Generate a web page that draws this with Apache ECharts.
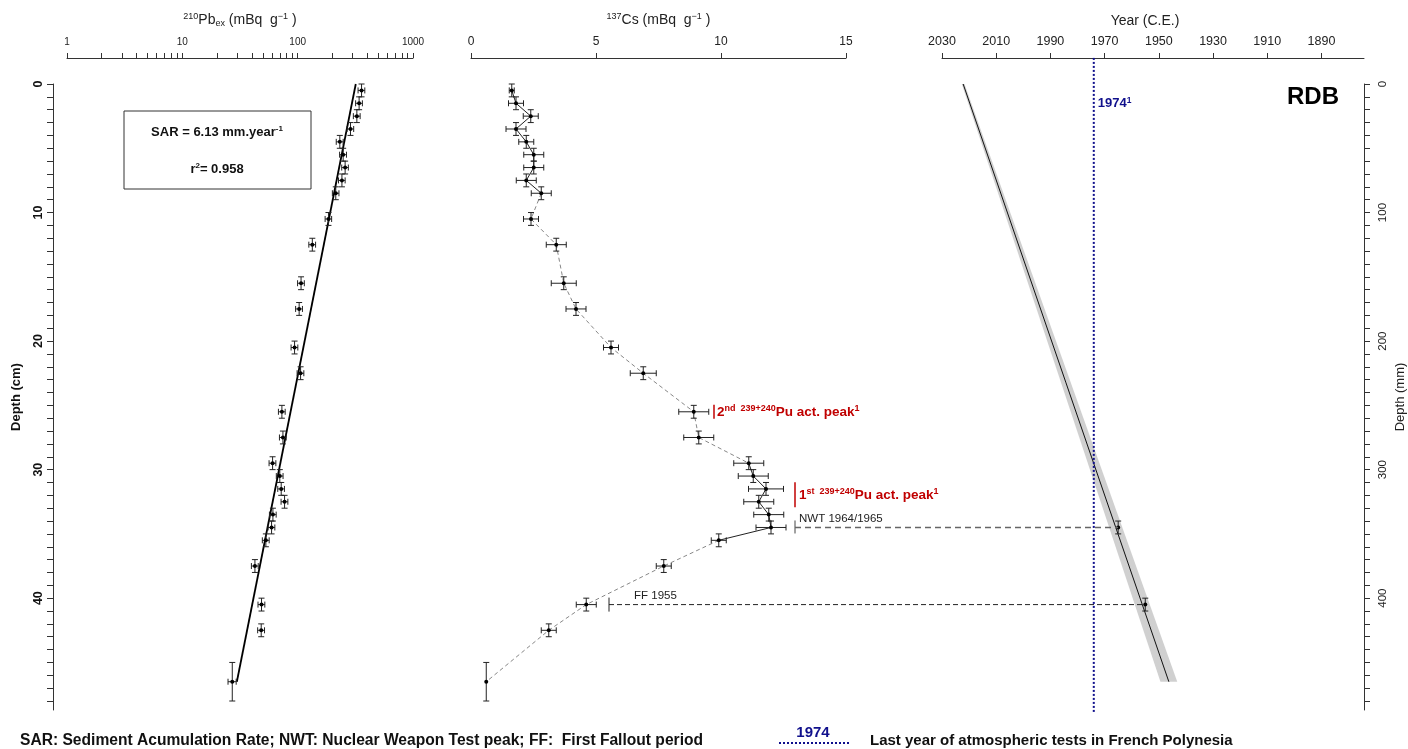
<!DOCTYPE html>
<html><head><meta charset="utf-8">
<script src="https://cdn.jsdelivr.net/npm/echarts@6/dist/echarts.min.js"></script>
<style>html,body{margin:0;padding:0;background:#fff}#c{width:1408px;height:749px}</style>
</head><body><div id="c"></div>
<script>
// ---------- data ----------
const depthCm  = [0.5,1.5,2.5,3.5,4.5,5.5,6.5,7.5,8.5,10.5,12.5,15.5,17.5,20.5,22.5,25.5,27.5,29.5,30.5,31.5,32.5,33.5,34.5,35.5,37.5,40.5,42.5,46.5];
const depthErr = [0.5,0.5,0.5,0.5,0.5,0.5,0.5,0.5,0.5,0.5,0.5,0.5,0.5,0.5,0.5,0.5,0.5,0.5,0.5,0.5,0.5,0.5,0.5,0.5,0.5,0.5,0.5,1.5];
const pbValues = [358,341,326,287,232,248,258,242,214,185,134,107,103,94,106,73,74.5,60.6,70,72,77,61,59.4,53,42.6,48.6,48.3,27.1];
const pbErr    = [24,23,22,19,16,17,17,16,14,12,9,7.2,7,6.3,7.1,4.9,5,4.1,4.7,4.8,5.2,4.1,4,3.6,2.9,3.3,3.3,2.2];
const csValues = [1.63,1.8,2.39,1.8,2.21,2.51,2.51,2.21,2.81,2.4,3.41,3.71,4.2,5.6,6.89,8.91,9.11,11.11,11.29,11.8,11.51,11.91,12.0,9.91,7.71,4.61,3.11,0.61];
const csErr    = [0.1,0.3,0.3,0.4,0.3,0.4,0.4,0.4,0.4,0.3,0.4,0.5,0.4,0.3,0.52,0.6,0.6,0.6,0.6,0.7,0.6,0.6,0.6,0.3,0.3,0.4,0.3,0];
const csSolidRanges  = [[0,8],[17,23]];
const csDashedRanges = [[8,17],[23,27]];
const pbFitDepth = [0, 46.5];
const pbFitValue = [319, 29.7];
const ageDepthMm = [0, 465];
const ageYear    = [2022.2, 1946.3];
const ageBandYoung = [2022.7, 1949.4];
const ageBandOld   = [2021.7, 1943.2];
const ageDatesDepthMm = [345, 405];
const ageDatesYear    = [1965, 1955];
const ageDatesErrMm   = [5, 5];
const pbTickValues = [1,2,3,4,5,6,7,8,9,10,20,30,40,50,60,70,80,90,100,200,300,400,500,600,700,800,900,1000];
const pbLabelValues = [1,10,100,1000];
const csTicks = [0,5,10,15];
const yearTicks = [2030,2010,1990,1970,1950,1930,1910,1890];
const depthCmLabels = [0,10,20,30,40];
const depthCmTicks = [0,1,2,3,4,5,6,7,8,9,10,11,12,13,14,15,16,17,18,19,20,21,22,23,24,25,26,27,28,29,30,31,32,33,34,35,36,37,38,39,40,41,42,43,44,45,46,47,48];
const depthMmLabels = [0,100,200,300,400];
const depthMmTicks = [0,10,20,30,40,50,60,70,80,90,100,110,120,130,140,150,160,170,180,190,200,210,220,230,240,250,260,270,280,290,300,310,320,330,340,350,360,370,380,390,400,410,420,430,440,450,460,470,480];
const testsEndYear = 1974;
const pu2 = {cs: 9.72, depth: 25.5};
const pu1 = {cs: 12.96, depth: 32.0};
const nwt = {cs: 12.96, depth: 34.5, year: 1965, depthMm: 345};
const ff  = {cs: 5.52, depth: 40.5, year: 1955, depthMm: 405};

// ---------- chart ----------
const FONT = '"Liberation Sans", Arial, sans-serif';
const chart = echarts.init(document.getElementById('c'));
const GT = 84, GH = 626;
const plain = v => String(v);

function errRender(color) {
  return function (params, api) {
    const x = api.value(0), y = api.value(1), ex = api.value(2), ey = api.value(3);
    const c = api.coord([x, y]);
    const t = api.coord([x, y - ey]), b = api.coord([x, y + ey]);
    const st = {stroke: color, lineWidth: 1};
    const cap = 3;
    const ch = [
      {type: 'line', shape: {x1: t[0], y1: t[1], x2: b[0], y2: b[1]}, style: st},
      {type: 'line', shape: {x1: t[0] - cap, y1: t[1], x2: t[0] + cap, y2: t[1]}, style: st},
      {type: 'line', shape: {x1: b[0] - cap, y1: b[1], x2: b[0] + cap, y2: b[1]}, style: st}
    ];
    if (ex > 0) {
      const l = api.coord([x - ex, y]), r = api.coord([x + ex, y]);
      ch.push({type: 'line', shape: {x1: l[0], y1: l[1], x2: r[0], y2: r[1]}, style: st});
      ch.push({type: 'line', shape: {x1: l[0], y1: l[1] - cap, x2: l[0], y2: l[1] + cap}, style: st});
      ch.push({type: 'line', shape: {x1: r[0], y1: r[1] - cap, x2: r[0], y2: r[1] + cap}, style: st});
    }
    ch.push({type: 'circle', shape: {cx: c[0], cy: c[1], r: 2}, style: {fill: '#000'}});
    return {type: 'group', children: ch};
  };
}

const axisLineStyle = {onZero: false, lineStyle: {color: '#333', width: 1}};
function topAxis(grid, extra) {
  return Object.assign({
    gridIndex: grid, type: 'value', position: 'top', offset: 26,
    axisLine: axisLineStyle, splitLine: {show: false},
    axisTick: {length: 5, lineStyle: {color: '#333'}},
    nameLocation: 'middle', nameGap: 30,
    nameTextStyle: {fontFamily: FONT, fontSize: 14, color: '#222'}
  }, extra);
}

const supStyle = {fontFamily: FONT, fontSize: 9, color: '#222', verticalAlign: 'top', lineHeight: 16};
const nStyle = {fontFamily: FONT, fontSize: 14, color: '#222', lineHeight: 16};
const subStyle = {fontFamily: FONT, fontSize: 9, color: '#222', verticalAlign: 'bottom', lineHeight: 16};

const series = [];
// Pb fit line
series.push({type: 'line', xAxisIndex: 0, yAxisIndex: 0, showSymbol: false, silent: true,
  data: pbFitDepth.map((d, i) => [pbFitValue[i], d]),
  lineStyle: {color: '#000', width: 1.8}, z: 2});
// Pb points
series.push({type: 'custom', xAxisIndex: 0, yAxisIndex: 0, renderItem: errRender('#222'),
  encode: {x: 0, y: 1}, z: 3,
  data: depthCm.map((d, i) => [pbValues[i], d, pbErr[i], depthErr[i]])});
// Cs lines
csSolidRanges.forEach(r => series.push({type: 'line', xAxisIndex: 1, yAxisIndex: 1, showSymbol: false, silent: true,
  data: depthCm.slice(r[0], r[1] + 1).map((d, i) => [csValues[r[0] + i], d]),
  lineStyle: {color: '#222', width: 1}, z: 2}));
csDashedRanges.forEach(r => series.push({type: 'line', xAxisIndex: 1, yAxisIndex: 1, showSymbol: false, silent: true,
  data: depthCm.slice(r[0], r[1] + 1).map((d, i) => [csValues[r[0] + i], d]),
  lineStyle: {color: '#888', width: 1, type: [4, 3]}, z: 2}));
// Cs points
series.push({type: 'custom', xAxisIndex: 1, yAxisIndex: 1, renderItem: errRender('#222'),
  encode: {x: 0, y: 1}, z: 3,
  data: depthCm.map((d, i) => [csValues[i], d, csErr[i], depthErr[i]])});
// Age band
series.push({type: 'custom', xAxisIndex: 2, yAxisIndex: 2, silent: true, z: 1,
  encode: {x: 0, y: 1},
  data: ageDepthMm.map((d, i) => [ageYear[i], d]),
  renderItem: function (params, api) {
    if (params.dataIndex !== 0) return null;
    const pts = [];
    ageDepthMm.forEach((d, i) => pts.push(api.coord([ageBandYoung[i], d])));
    for (let i = ageDepthMm.length - 1; i >= 0; i--) pts.push(api.coord([ageBandOld[i], ageDepthMm[i]]));
    return {type: 'polygon', shape: {points: pts}, style: {fill: '#d0d0d0'}};
  }});
// Age line
series.push({type: 'line', xAxisIndex: 2, yAxisIndex: 2, showSymbol: false, silent: true,
  data: ageDepthMm.map((d, i) => [ageYear[i], d]),
  lineStyle: {color: '#111', width: 1}, z: 2});
// 1974 line
series.push({type: 'custom', xAxisIndex: 2, yAxisIndex: 2, silent: true, clip: false, z: 4,
  encode: {x: 0, y: 1},
  data: [[testsEndYear, -20.3], [testsEndYear, 489]],
  renderItem: function (params, api) {
    if (params.dataIndex !== 0) return null;
    const a = api.coord([testsEndYear, -20.3]), b = api.coord([testsEndYear, 489]);
    return {type: 'line', shape: {x1: a[0], y1: a[1], x2: b[0], y2: b[1]},
      style: {stroke: '#10108c', lineWidth: 2, lineDash: [2, 2]}};
  }});
// Age dated points
series.push({type: 'custom', xAxisIndex: 2, yAxisIndex: 2, renderItem: errRender('#222'),
  encode: {x: 0, y: 1}, z: 5,
  data: ageDatesDepthMm.map((d, i) => [ageDatesYear[i], d, 0, ageDatesErrMm[i]])});

const option = {
  animation: false,
  backgroundColor: '#fff',
  grid: [
    {left: 67, top: GT, width: 346, height: GH},
    {left: 471, top: GT, width: 375, height: GH},
    {left: 942, top: GT, width: 422, height: GH}
  ],
  xAxis: [
    topAxis(0, {type: 'log', logBase: 10, min: 1, max: 1000,
      name: '{s|210}{n|Pb}{b|ex}{n| (mBq  g}{s|−1}{n| )}',
      nameTextStyle: {rich: {s: supStyle, n: nStyle, b: subStyle}},
      axisTick: {length: 5, lineStyle: {color: '#333'}, customValues: pbTickValues},
      axisLabel: {customValues: pbLabelValues, formatter: plain, fontFamily: FONT, fontSize: 10, color: '#222', margin: 11}}),
    topAxis(1, {min: 0, max: 15,
      name: '{s|137}{n|Cs (mBq  g}{s|−1}{n| )}',
      nameTextStyle: {rich: {s: supStyle, n: nStyle}},
      axisTick: {length: 5, lineStyle: {color: '#333'}, customValues: csTicks},
      axisLabel: {customValues: csTicks, formatter: plain, fontFamily: FONT, fontSize: 12, color: '#222', margin: 10}}),
    topAxis(2, {min: 1874.3, max: 2030, inverse: true,
      name: 'Year (C.E.)',
      nameTextStyle: {fontFamily: FONT, fontSize: 14, color: '#222', padding: [0, 16, 0, 0]},
      axisTick: {length: 5, lineStyle: {color: '#333'}, customValues: yearTicks},
      axisLabel: {customValues: yearTicks, formatter: plain, fontFamily: FONT, fontSize: 12.5, color: '#222', margin: 10}})
  ],
  yAxis: [
    {gridIndex: 0, type: 'value', min: 0, max: 48.7, inverse: true, position: 'left', offset: 14,
      name: 'Depth (cm)', nameLocation: 'middle', nameGap: 30, nameRotate: 90,
      nameTextStyle: {fontFamily: FONT, fontSize: 13, fontWeight: 'bold', color: '#111'},
      axisLine: axisLineStyle, splitLine: {show: false},
      axisTick: {length: 6, lineStyle: {color: '#333'}, customValues: depthCmTicks},
      axisLabel: {customValues: depthCmLabels, formatter: plain, rotate: 90, fontFamily: FONT, fontSize: 12.5, fontWeight: 'bold', color: '#111', margin: 8}},
    {gridIndex: 1, type: 'value', min: 0, max: 48.7, inverse: true, show: false},
    {gridIndex: 2, type: 'value', min: 0, max: 487, inverse: true, position: 'right', offset: 0,
      name: 'Depth (mm)', nameLocation: 'middle', nameGap: 30, nameRotate: 90,
      nameTextStyle: {fontFamily: FONT, fontSize: 13, color: '#222'},
      axisLine: axisLineStyle, splitLine: {show: false},
      axisTick: {length: 6, lineStyle: {color: '#333'}, customValues: depthMmTicks},
      axisLabel: {customValues: depthMmLabels, formatter: plain, rotate: 90, fontFamily: FONT, fontSize: 11.5, color: '#222', margin: 13}}
  ],
  series: series
};
chart.setOption(option);

// ---------- annotations ----------
function p(grid, x, y) { return chart.convertToPixel({gridIndex: grid}, [x, y]); }
const RED = '#c00000', BLUE = '#10108c';
const redRich = {
  b: {fontFamily: FONT, fontSize: 13.5, fontWeight: 'bold', fill: RED, lineHeight: 16},
  s: {fontFamily: FONT, fontSize: 9, fontWeight: 'bold', fill: RED, verticalAlign: 'top', lineHeight: 16}
};
const g = [];
const a2 = p(1, pu2.cs, pu2.depth);
g.push({type: 'line', shape: {x1: a2[0], y1: a2[1] - 7, x2: a2[0], y2: a2[1] + 7}, style: {stroke: RED, lineWidth: 1.5}});
g.push({type: 'text', x: a2[0] + 3, y: a2[1], style: {text: '{b|2}{s|nd  239+240}{b|Pu act. peak}{s|1}', rich: redRich, verticalAlign: 'middle', align: 'left'}});
const a1 = p(1, pu1.cs, pu1.depth);
g.push({type: 'line', shape: {x1: a1[0], y1: a1[1] - 13, x2: a1[0], y2: a1[1] + 12}, style: {stroke: RED, lineWidth: 1.5}});
g.push({type: 'text', x: a1[0] + 4, y: a1[1], style: {text: '{b|1}{s|st  239+240}{b|Pu act. peak}{s|1}', rich: redRich, verticalAlign: 'middle', align: 'left'}});
// NWT
const n0 = p(1, nwt.cs, nwt.depth), n1 = p(2, nwt.year, nwt.depthMm);
g.push({type: 'line', shape: {x1: n0[0], y1: n0[1] - 7, x2: n0[0], y2: n0[1] + 6}, style: {stroke: '#444', lineWidth: 1}});
g.push({type: 'line', z: 10, shape: {x1: n0[0], y1: n0[1], x2: n1[0], y2: n1[1]}, style: {stroke: '#666', lineWidth: 1.5, lineDash: [6, 4]}});
g.push({type: 'text', x: n0[0] + 4, y: n0[1] - 9, style: {text: 'NWT 1964/1965', fontFamily: FONT, fontSize: 11.5, fill: '#222', verticalAlign: 'middle', align: 'left'}});
// FF
const f0 = p(1, ff.cs, ff.depth), f1 = p(2, ff.year, ff.depthMm);
g.push({type: 'line', shape: {x1: f0[0], y1: f0[1] - 7, x2: f0[0], y2: f0[1] + 7}, style: {stroke: '#222', lineWidth: 1}});
g.push({type: 'line', z: 10, shape: {x1: f0[0], y1: f0[1], x2: f1[0], y2: f1[1]}, style: {stroke: '#222', lineWidth: 1, lineDash: [5, 3]}});
g.push({type: 'text', x: f0[0] + 25, y: f0[1] - 9, style: {text: 'FF 1955', fontFamily: FONT, fontSize: 11.5, fill: '#222', verticalAlign: 'middle', align: 'left'}});
// 1974 label
const t74 = p(2, testsEndYear, 15);
g.push({type: 'text', x: t74[0] + 4, y: t74[1], style: {text: '{b|1974}{s|1}', verticalAlign: 'middle', align: 'left',
  rich: {b: {fontFamily: FONT, fontSize: 13, fontWeight: 'bold', fill: BLUE, lineHeight: 15},
         s: {fontFamily: FONT, fontSize: 8.5, fontWeight: 'bold', fill: BLUE, verticalAlign: 'top', lineHeight: 15}}}});
// RDB
g.push({type: 'text', x: 1339, y: 97, style: {text: 'RDB', fontFamily: FONT, fontSize: 24, fontWeight: 'bold', fill: '#000', align: 'right', verticalAlign: 'middle'}});
// SAR box
g.push({type: 'rect', shape: {x: 124, y: 111, width: 187, height: 78}, style: {fill: 'none', stroke: '#333', lineWidth: 1}});
g.push({type: 'text', x: 217, y: 132, style: {text: '{b|SAR = 6.13 mm.year}{s|-1}', align: 'center', verticalAlign: 'middle',
  rich: {b: {fontFamily: FONT, fontSize: 13, fontWeight: 'bold', fill: '#111', lineHeight: 15},
         s: {fontFamily: FONT, fontSize: 8, fontWeight: 'bold', fill: '#111', verticalAlign: 'top', lineHeight: 15}}}});
g.push({type: 'text', x: 217, y: 169, style: {text: '{b|r}{s|2}{b|= 0.958}', align: 'center', verticalAlign: 'middle',
  rich: {b: {fontFamily: FONT, fontSize: 13, fontWeight: 'bold', fill: '#111', lineHeight: 15},
         s: {fontFamily: FONT, fontSize: 8, fontWeight: 'bold', fill: '#111', verticalAlign: 'top', lineHeight: 15}}}});
// bottom legend
g.push({type: 'text', x: 20, y: 741, style: {text: 'SAR: Sediment Acumulation Rate; NWT: Nuclear Weapon Test peak; FF:  First Fallout period',
  fontFamily: FONT, fontSize: 15.6, fontWeight: 'bold', fill: '#111', verticalAlign: 'middle', align: 'left'}});
g.push({type: 'text', x: 813, y: 733, style: {text: '1974', fontFamily: FONT, fontSize: 15, fontWeight: 'bold', fill: BLUE, verticalAlign: 'middle', align: 'center'}});
g.push({type: 'line', shape: {x1: 779, y1: 743, x2: 850, y2: 743}, style: {stroke: BLUE, lineWidth: 2, lineDash: [2, 2]}});
g.push({type: 'text', x: 870, y: 741, style: {text: 'Last year of atmospheric tests in French Polynesia',
  fontFamily: FONT, fontSize: 15, fontWeight: 'bold', fill: '#111', verticalAlign: 'middle', align: 'left'}});
chart.setOption({graphic: g});
</script></body></html>
